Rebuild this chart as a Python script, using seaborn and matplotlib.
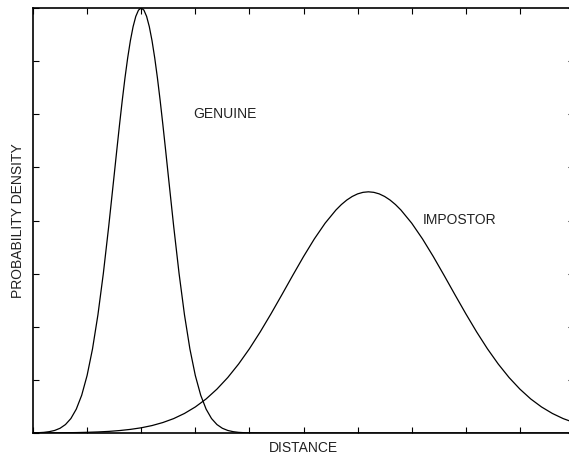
import pandas as pd
import matplotlib.pyplot as plt
import seaborn as sns

# Genuine distribution (narrow, peak at 2)
genuine_x = [0.0, 0.1, 0.2, 0.3, 0.4, 0.5, 0.6, 0.7, 0.8, 0.9,
             1.0, 1.1, 1.2, 1.3, 1.4, 1.5, 1.55, 1.6, 1.65, 1.7, 1.75, 1.8, 1.85, 1.9, 1.95,
             2.0, 2.05, 2.1, 2.15, 2.2, 2.25, 2.3, 2.35, 2.4, 2.45, 2.5, 2.6, 2.7, 2.8, 2.9,
             3.0, 3.1, 3.2, 3.3, 3.4, 3.5, 3.6, 3.7, 3.8, 3.9,
             4.0, 4.5, 5.0, 6.0, 7.0, 8.0, 9.0, 10.0]
genuine_y = [0.003, 0.006, 0.012, 0.025, 0.048, 0.089, 0.159, 0.272, 0.449, 0.711,
             1.083, 1.583, 2.224, 3.002, 3.894, 4.852, 5.336, 5.809, 6.262, 6.683, 7.060, 7.385, 7.648, 7.842, 7.960,
             8.000, 7.960, 7.842, 7.648, 7.385, 7.060, 6.683, 6.262, 5.809, 5.336, 4.852, 3.894, 3.002, 2.224, 1.583,
             1.083, 0.711, 0.449, 0.272, 0.159, 0.089, 0.048, 0.025, 0.012, 0.006,
             0.003, 0.0, 0.0, 0.0, 0.0, 0.0, 0.0, 0.0]

# Impostor distribution (wide, peak near 6.2)
impostor_x = [0.0, 0.2, 0.4, 0.6, 0.8, 1.0, 1.2, 1.4, 1.6, 1.8,
              2.0, 2.2, 2.4, 2.6, 2.8, 3.0, 3.2, 3.4, 3.6, 3.8,
              4.0, 4.2, 4.4, 4.6, 4.8, 5.0, 5.2, 5.4, 5.6, 5.7, 5.8, 5.9,
              6.0, 6.1, 6.2, 6.3, 6.4, 6.5, 6.6, 6.7, 6.8, 7.0, 7.2, 7.4, 7.6, 7.8,
              8.0, 8.2, 8.4, 8.6, 8.8, 9.0, 9.2, 9.4, 9.6, 9.8, 10.0]
impostor_y = [0.001, 0.002, 0.003, 0.005, 0.008, 0.013, 0.020, 0.030, 0.046, 0.068,
              0.098, 0.140, 0.197, 0.271, 0.368, 0.490, 0.641, 0.826, 1.044, 1.298,
              1.585, 1.903, 2.245, 2.602, 2.965, 3.320, 3.653, 3.950, 4.198, 4.300, 4.385, 4.452,
              4.501, 4.530, 4.540, 4.530, 4.501, 4.452, 4.385, 4.300, 4.198, 3.950, 3.653, 3.320, 2.965, 2.602,
              2.245, 1.903, 1.585, 1.298, 1.044, 0.826, 0.641, 0.490, 0.368, 0.271, 0.197]

sns.set_style("ticks")
plt.rcParams['font.family'] = ['Liberation Sans', 'DejaVu Sans']

fig = plt.figure(figsize=(5.69, 4.58), dpi=100)
ax = fig.add_axes([33/569, 25/458, 541/569, 425/458])

gen = pd.DataFrame({'x': genuine_x, 'y': genuine_y})
imp = pd.DataFrame({'x': impostor_x, 'y': impostor_y})
sns.lineplot(data=gen, x='x', y='y', color='black', lw=0.9, ax=ax)
sns.lineplot(data=imp, x='x', y='y', color='black', lw=0.9, ax=ax)

ax.set_xlim(0, 10)
ax.set_ylim(0, 8)
ax.set_xticks(range(0, 11))
ax.set_yticks(range(0, 9))
ax.tick_params(direction='in', length=4, width=0.8, color='black',
               top=True, right=True, labelbottom=False, labelleft=False)
for s in ax.spines.values():
    s.set_color('black')
    s.set_linewidth(1.2)

ax.set_xlabel('DISTANCE', fontsize=10, labelpad=6, color='#222222')
ax.set_ylabel('PROBABILITY DENSITY', fontsize=10, labelpad=6, color='#222222')

ax.text(2.96, 6.0, 'GENUINE', fontsize=10, va='center', ha='left', color='#222222')
ax.text(7.2, 4.01, 'IMPOSTOR', fontsize=10, va='center', ha='left', color='#222222')

fig.savefig('out.png', dpi=100)
